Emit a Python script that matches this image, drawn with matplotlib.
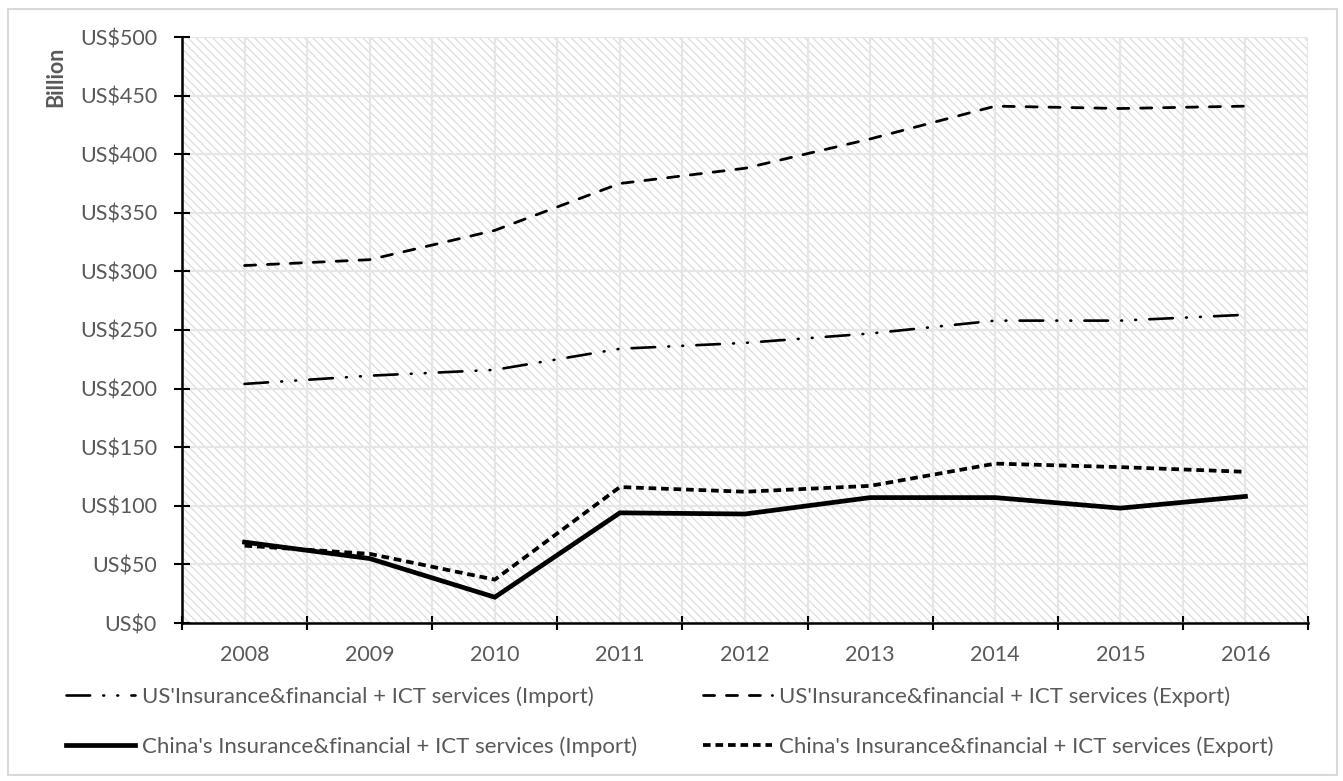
"""
Insurance & financial + ICT services trade, US vs China, 2008-2016.
Excel-style line chart with a hatched plot area and a two-column legend.
"""

import matplotlib
matplotlib.use("Agg")
import matplotlib.pyplot as plt
from matplotlib.patches import Rectangle
from matplotlib.ticker import FixedLocator, FuncFormatter, MultipleLocator

# data (US$ billion)
years = ["2008", "2009", "2010", "2011", "2012", "2013", "2014", "2015", "2016"]
us_import = [204, 211, 216, 234, 239, 247, 258, 258, 263]
us_export = [305, 310, 335, 375, 388, 413, 441, 439, 441]
cn_import = [69, 55, 22, 94, 93, 107, 107, 98, 108]
cn_export = [66, 59, 37, 116, 112, 117, 136, 133, 129]

labels = [
    "US'Insurance&financial + ICT services (Import)",
    "US'Insurance&financial + ICT services (Export)",
    "China's Insurance&financial + ICT services (Import)",
    "China's Insurance&financial + ICT services (Export)",
]

TEXT = "#595959"
GRID = "#e6e6e6"
HATCH = "#d9d9d9"

plt.rcParams["font.family"] = ["Lato", "DejaVu Sans"]
plt.rcParams["lines.scale_dashes"] = False
plt.rcParams["hatch.linewidth"] = 0.8
plt.rcParams["hatch.color"] = HATCH

fig = plt.figure(figsize=(13.43, 7.81), dpi=100)
ax = fig.add_axes([182 / 1343, 1 - 623 / 781, (1308 - 182) / 1343, (623 - 37) / 781])

# diagonal hatch behind everything in the plot area
ax.add_patch(Rectangle((0, 0), 1, 1, transform=ax.transAxes, facecolor="white",
                       edgecolor=HATCH, hatch="\\\\\\\\", linewidth=0, zorder=0))
ax.set_facecolor("white")

x = list(range(len(years)))

ax.plot(x, us_import, color="black", lw=1.9, solid_capstyle="round",
        dash_capstyle="round", linestyle=(0, (17, 9.5, 0.6, 9.5, 0.6, 9.5)),
        label=labels[0], zorder=3)
ax.plot(x, us_export, color="black", lw=2.0, dash_capstyle="round",
        linestyle=(0, (8, 8.5)), label=labels[1], zorder=3)
ax.plot(x, cn_import, color="black", lw=3.4, solid_joinstyle="miter",
        label=labels[2], zorder=4)
ax.plot(x, cn_export, color="black", lw=2.7, linestyle=(0, (5.5, 3.5)),
        label=labels[3], zorder=4)

ax.set_xlim(-0.5, len(years) - 0.5)
ax.set_ylim(0, 500)

# category boundaries carry the ticks, centres carry the year labels
ax.xaxis.set_major_locator(FixedLocator([i - 0.5 for i in range(len(years) + 1)]))
ax.xaxis.set_minor_locator(FixedLocator(x))
ax.set_xticklabels([], minor=False)
ax.set_xticklabels(years, minor=True)
ax.tick_params(axis="x", which="major", direction="inout", length=10, width=1.5,
               color="black")
ax.tick_params(axis="x", which="minor", length=0, pad=16, labelsize=15.5,
               labelcolor=TEXT)

ax.yaxis.set_major_locator(MultipleLocator(50))
ax.yaxis.set_major_formatter(FuncFormatter(lambda v, _: f"US${v:.0f}"))
ax.tick_params(axis="y", direction="inout", length=12, width=1.5, color="black",
               pad=12, labelsize=15.5, labelcolor=TEXT)

ax.grid(True, which="both", axis="x", color=GRID, lw=1.6, zorder=1)
ax.grid(True, which="major", axis="y", color=GRID, lw=1.6, zorder=1)
ax.set_axisbelow(True)

for side in ("top", "right"):
    ax.spines[side].set_visible(False)
for side in ("left", "bottom"):
    ax.spines[side].set_linewidth(1.8)
    ax.spines[side].set_color("black")
    ax.spines[side].set_zorder(5)

fig.text(56 / 1343, 1 - 77 / 781, "Billion", rotation=90, ha="center", va="center",
         fontsize=15.5, fontweight="bold", color=TEXT)

handles, lbls = ax.get_legend_handles_labels()
order = [0, 2, 1, 3]
fig.legend([handles[i] for i in order], [lbls[i] for i in order], ncol=2,
           loc="upper left", bbox_to_anchor=(66 / 1343, 1 - 686 / 781),
           frameon=False, fontsize=16, labelcolor=TEXT, handlelength=3.1,
           handletextpad=0.3, columnspacing=3.0, labelspacing=1.35,
           borderpad=0, borderaxespad=0)

# thin light border round the whole chart
fig.patches.append(Rectangle((8 / 1343, 6 / 781), 1329 / 1343, 766 / 781,
                             transform=fig.transFigure, fill=False,
                             edgecolor="#d9d9d9", lw=1.5))

fig.savefig("out.png", dpi=100)
